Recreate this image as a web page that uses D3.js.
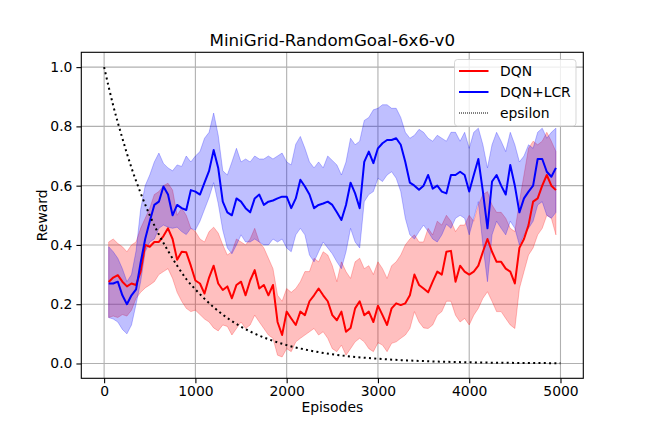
<!DOCTYPE html>
<html>
<head>
<meta charset="utf-8">
<script src="https://cdn.jsdelivr.net/npm/d3@7"></script>
<style>
	body { margin: 0; background: #fff; }
	text { font-family: "DejaVu Sans", sans-serif; }
</style>
</head>
<body>
<div id="chart"></div>
<script>
var episodes = d3.range(50, 5000, 50);

var dqnMean = [0.275, 0.29, 0.298, 0.276, 0.26, 0.27, 0.265, 0.31, 0.40, 0.394,
	0.41, 0.41, 0.43, 0.456, 0.42, 0.35, 0.377, 0.375, 0.33, 0.28,
	0.27, 0.236, 0.29, 0.33, 0.27, 0.248, 0.26, 0.22, 0.265, 0.276,
	0.23, 0.28, 0.315, 0.253, 0.265, 0.23, 0.265, 0.14, 0.096, 0.175,
	0.152, 0.13, 0.175, 0.163, 0.21, 0.23, 0.253, 0.23, 0.21, 0.163,
	0.146, 0.175, 0.107, 0.12, 0.186, 0.21, 0.163, 0.175, 0.14, 0.195,
	0.163, 0.13, 0.186, 0.203, 0.197, 0.203, 0.23, 0.30, 0.265, 0.253,
	0.24, 0.276, 0.31, 0.30, 0.377, 0.38, 0.276, 0.33, 0.31, 0.30,
	0.31, 0.33, 0.377, 0.42, 0.377, 0.343, 0.343, 0.32, 0.31, 0.27,
	0.39, 0.42, 0.467, 0.546, 0.557, 0.60, 0.636, 0.60, 0.585];
var dqnUpper = [0.41, 0.42, 0.405, 0.394, 0.377, 0.40, 0.41, 0.456, 0.49, 0.524,
	0.57, 0.58, 0.60, 0.608, 0.585, 0.50, 0.524, 0.50, 0.456, 0.445,
	0.42, 0.41, 0.445, 0.46, 0.44, 0.40, 0.366, 0.377, 0.42, 0.41,
	0.40, 0.42, 0.456, 0.41, 0.39, 0.355, 0.32, 0.23, 0.21, 0.253,
	0.24, 0.253, 0.276, 0.31, 0.31, 0.355, 0.343, 0.377, 0.366, 0.33,
	0.276, 0.343, 0.31, 0.287, 0.343, 0.355, 0.32, 0.33, 0.30, 0.343,
	0.32, 0.287, 0.33, 0.343, 0.366, 0.40, 0.42, 0.434, 0.41, 0.41,
	0.456, 0.434, 0.48, 0.467, 0.50, 0.48, 0.445, 0.467, 0.467, 0.50,
	0.48, 0.535, 0.57, 0.58, 0.535, 0.51, 0.51, 0.49, 0.456, 0.445,
	0.546, 0.636, 0.726, 0.75, 0.738, 0.75, 0.78, 0.75, 0.715];
var dqnLower = [0.155, 0.16, 0.155, 0.165, 0.16, 0.18, 0.22, 0.24, 0.255, 0.265,
	0.276, 0.30, 0.31, 0.32, 0.287, 0.24, 0.21, 0.186, 0.175, 0.18,
	0.165, 0.15, 0.14, 0.12, 0.11, 0.13, 0.125, 0.096, 0.118, 0.14,
	0.118, 0.13, 0.163, 0.14, 0.118, 0.096, 0.085, 0.028, 0.022, 0.05,
	0.04, 0.073, 0.085, 0.096, 0.107, 0.118, 0.096, 0.107, 0.085, 0.05,
	0.04, 0.062, 0.028, 0.05, 0.073, 0.085, 0.073, 0.05, 0.04, 0.07,
	0.062, 0.04, 0.068, 0.073, 0.085, 0.096, 0.118, 0.175, 0.14, 0.12,
	0.118, 0.13, 0.163, 0.175, 0.21, 0.21, 0.163, 0.14, 0.152, 0.13,
	0.163, 0.186, 0.22, 0.242, 0.21, 0.175, 0.175, 0.152, 0.13, 0.118,
	0.253, 0.31, 0.366, 0.39, 0.434, 0.456, 0.50, 0.49, 0.434];

var lcrMean = [0.27, 0.27, 0.276, 0.23, 0.20, 0.23, 0.25, 0.34, 0.42, 0.48,
	0.535, 0.546, 0.597, 0.57, 0.50, 0.535, 0.524, 0.518, 0.585, 0.58,
	0.57, 0.61, 0.65, 0.72, 0.66, 0.546, 0.51, 0.50, 0.557, 0.546,
	0.524, 0.51, 0.557, 0.57, 0.535, 0.546, 0.55, 0.557, 0.563, 0.563,
	0.524, 0.557, 0.62, 0.597, 0.57, 0.524, 0.535, 0.54, 0.546, 0.535,
	0.51, 0.484, 0.535, 0.61, 0.574, 0.524, 0.68, 0.715, 0.676, 0.726,
	0.743, 0.754, 0.754, 0.76, 0.738, 0.68, 0.61, 0.60, 0.586, 0.60,
	0.636, 0.59, 0.60, 0.58, 0.574, 0.636, 0.636, 0.647, 0.636, 0.58,
	0.636, 0.69, 0.58, 0.456, 0.614, 0.636, 0.60, 0.57, 0.67, 0.60,
	0.51, 0.557, 0.58, 0.60, 0.69, 0.69, 0.647, 0.63, 0.66];
var lcrUpper = [0.394, 0.377, 0.355, 0.32, 0.276, 0.30, 0.38, 0.52, 0.60, 0.636,
	0.68, 0.71, 0.675, 0.66, 0.65, 0.67, 0.665, 0.70, 0.68, 0.70,
	0.715, 0.76, 0.78, 0.845, 0.77, 0.65, 0.636, 0.68, 0.726, 0.68,
	0.69, 0.68, 0.70, 0.69, 0.69, 0.70, 0.69, 0.70, 0.71, 0.68,
	0.67, 0.74, 0.766, 0.726, 0.68, 0.66, 0.68, 0.66, 0.70, 0.685,
	0.67, 0.636, 0.68, 0.76, 0.738, 0.75, 0.82, 0.83, 0.856, 0.861,
	0.873, 0.873, 0.861, 0.861, 0.83, 0.78, 0.76, 0.77, 0.79, 0.78,
	0.76, 0.75, 0.77, 0.76, 0.75, 0.78, 0.78, 0.75, 0.78, 0.726,
	0.78, 0.794, 0.738, 0.66, 0.738, 0.78, 0.75, 0.715, 0.78, 0.738,
	0.68, 0.70, 0.738, 0.726, 0.78, 0.794, 0.76, 0.78, 0.794];
var lcrLower = [0.155, 0.15, 0.14, 0.115, 0.10, 0.13, 0.20, 0.276, 0.377, 0.41,
	0.42, 0.456, 0.467, 0.46, 0.456, 0.46, 0.445, 0.435, 0.456, 0.45,
	0.48, 0.52, 0.56, 0.61, 0.54, 0.45, 0.39, 0.37, 0.40, 0.434,
	0.41, 0.41, 0.42, 0.41, 0.40, 0.40, 0.42, 0.41, 0.42, 0.39,
	0.377, 0.434, 0.456, 0.434, 0.366, 0.343, 0.377, 0.41, 0.39, 0.37,
	0.343, 0.32, 0.377, 0.456, 0.41, 0.39, 0.546, 0.57, 0.58, 0.625,
	0.614, 0.636, 0.647, 0.625, 0.58, 0.49, 0.434, 0.42, 0.445, 0.467,
	0.445, 0.42, 0.41, 0.434, 0.47, 0.456, 0.49, 0.50, 0.49, 0.434,
	0.49, 0.546, 0.40, 0.276, 0.434, 0.48, 0.456, 0.434, 0.48, 0.456,
	0.40, 0.434, 0.456, 0.48, 0.535, 0.546, 0.50, 0.49, 0.51];

var epsEpisodes = [0, 100, 200, 300, 400, 500, 600, 700, 800, 900, 1000, 1200, 1400, 1600,
	1800, 2000, 2250, 2500, 2750, 3000, 3500, 4000, 4500, 5000];
var epsValues = [1.0, 0.87, 0.76, 0.66, 0.575, 0.50, 0.435, 0.38, 0.33, 0.285, 0.25, 0.19, 0.143, 0.108,
	0.082, 0.062, 0.044, 0.031, 0.022, 0.016, 0.008, 0.004, 0.002, 0.001];

var xTicks = [0, 1000, 2000, 3000, 4000, 5000];
var yTicks = [0.0, 0.2, 0.4, 0.6, 0.8, 1.0];

var width = 648,
	height = 432,
	axLeft = 81.3, axRight = 583.3, axTop = 52.3, axBottom = 378.3;

var svg = d3.select('#chart').append('svg')
	.attr('width', width)
	.attr('height', height)
	.style('display', 'block');

svg.append('rect').attr('width', width).attr('height', height).attr('fill', '#fff');

var x = d3.scaleLinear().domain([-250, 5250]).range([axLeft, axRight]);
var y = d3.scaleLinear().domain([-0.05, 1.05]).range([axBottom, axTop]);

// grid
svg.append('g').selectAll('line').data(xTicks).enter().append('line')
	.attr('x1', function (d) { return x(d); })
	.attr('x2', function (d) { return x(d); })
	.attr('y1', axTop).attr('y2', axBottom)
	.attr('stroke', '#b0b0b0').attr('stroke-width', 1.1);
svg.append('g').selectAll('line').data(yTicks).enter().append('line')
	.attr('y1', function (d) { return y(d); })
	.attr('y2', function (d) { return y(d); })
	.attr('x1', axLeft).attr('x2', axRight)
	.attr('stroke', '#b0b0b0').attr('stroke-width', 1.1);

var plot = svg.append('g');

function band(lower, upper, color) {
	var area = d3.area()
		.x(function (d, i) { return x(episodes[i]); })
		.y0(function (d, i) { return y(lower[i]); })
		.y1(function (d, i) { return y(upper[i]); });
	plot.append('path')
		.attr('d', area(episodes))
		.attr('fill', color)
		.attr('fill-opacity', 0.25)
		.attr('stroke', color)
		.attr('stroke-opacity', 0.25)
		.attr('stroke-width', 1);
}

function meanLine(values, color) {
	var line = d3.line()
		.x(function (d, i) { return x(episodes[i]); })
		.y(function (d) { return y(d); });
	plot.append('path')
		.attr('d', line(values))
		.attr('fill', 'none')
		.attr('stroke', color)
		.attr('stroke-width', 2)
		.attr('stroke-linejoin', 'round');
}

band(dqnLower, dqnUpper, '#ff0000');
band(lcrLower, lcrUpper, '#0000ff');
meanLine(dqnMean, '#ff0000');
meanLine(lcrMean, '#0000ff');

var epsLine = d3.line()
	.x(function (d, i) { return x(epsEpisodes[i]); })
	.y(function (d) { return y(d); })
	.curve(d3.curveMonotoneX);
plot.append('path')
	.attr('d', epsLine(epsValues))
	.attr('fill', 'none')
	.attr('stroke', '#000')
	.attr('stroke-width', 2)
	.attr('stroke-dasharray', '2,3.3');

// axes
var xAxis = d3.axisBottom(x).tickValues(xTicks).tickSize(4.9).tickPadding(3).tickFormat(d3.format('d'));
var yAxis = d3.axisLeft(y).tickValues(yTicks).tickSize(4.9).tickPadding(4).tickFormat(d3.format('.1f'));

var gx = svg.append('g').attr('transform', 'translate(0,' + axBottom + ')').call(xAxis);
var gy = svg.append('g').attr('transform', 'translate(' + axLeft + ',0)').call(yAxis);
[gx, gy].forEach(function (g) {
	g.select('.domain').remove();
	g.selectAll('line').attr('stroke', '#000').attr('stroke-width', 1.1);
	g.selectAll('text').style('font-size', '13.9px').style('font-family', '"DejaVu Sans", sans-serif').attr('fill', '#000');
});

svg.append('rect')
	.attr('x', axLeft).attr('y', axTop)
	.attr('width', axRight - axLeft).attr('height', axBottom - axTop)
	.attr('fill', 'none').attr('stroke', '#000').attr('stroke-width', 1.1);

// text
svg.append('text')
	.text('MiniGrid-RandomGoal-6x6-v0')
	.attr('x', (axLeft + axRight) / 2).attr('y', 46)
	.attr('text-anchor', 'middle')
	.style('font-size', '16.7px');
svg.append('text')
	.text('Episodes')
	.attr('x', (axLeft + axRight) / 2).attr('y', 412)
	.attr('text-anchor', 'middle')
	.style('font-size', '13.9px');
svg.append('text')
	.text('Reward')
	.attr('transform', 'translate(46.5,' + (axTop + axBottom) / 2 + ') rotate(-90)')
	.attr('text-anchor', 'middle')
	.style('font-size', '13.9px');

// legend
var legendItems = [
	{ name: 'DQN', color: '#ff0000', width: 2, dash: null },
	{ name: 'DQN+LCR', color: '#0000ff', width: 2, dash: null },
	{ name: 'epsilon', color: '#000', width: 1, dash: '1,1' }
];
var legend = svg.append('g');
legend.append('rect')
	.attr('x', 454.5).attr('y', 59.5)
	.attr('width', 121.5).attr('height', 66.5)
	.attr('rx', 3)
	.attr('fill', '#fff').attr('fill-opacity', 0.8)
	.attr('stroke', '#cccccc').attr('stroke-opacity', 0.8);
var item = legend.selectAll('.item').data(legendItems).enter().append('g')
	.attr('transform', function (d, i) { return 'translate(0,' + (71 + i * 21) + ')'; });
item.append('line')
	.attr('x1', 459).attr('x2', 488.5)
	.attr('stroke', function (d) { return d.color; })
	.attr('stroke-width', function (d) { return d.width; })
	.attr('stroke-dasharray', function (d) { return d.dash; });
item.append('text')
	.text(function (d) { return d.name; })
	.attr('x', 500).attr('dy', '0.36em')
	.style('font-size', '13.9px');
</script>
</body>
</html>
